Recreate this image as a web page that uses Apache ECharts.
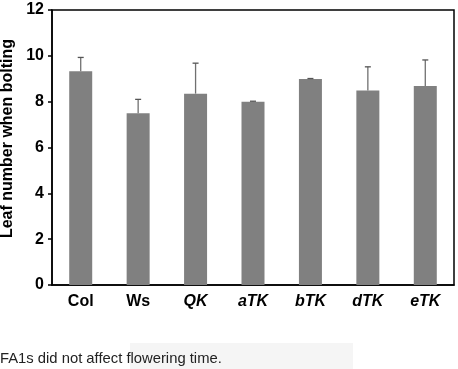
<!DOCTYPE html>
<html><head><meta charset="utf-8">
<script src="https://cdn.jsdelivr.net/npm/echarts@6/dist/echarts.min.js"></script>
<style>html,body{margin:0;padding:0;background:#fff}#c{width:458px;height:369px}</style>
</head><body><div id="c"></div>
<script>
const categories = ['Col','Ws','QK','aTK','bTK','dTK','eTK'];
const italicCats = ['QK','aTK','bTK','dTK','eTK'];
const means = [9.33, 7.49, 8.35, 8.0, 8.99, 8.49, 8.68];
const upperErr = [9.93, 8.10, 9.68, 8.02, 9.01, 9.52, 9.82];
const yTicks = [0,2,4,6,8,10,12];

const chart = echarts.init(document.getElementById('c'));
const FONT = '"Liberation Sans", Arial, sans-serif';
chart.setOption({
  animation:false,
  grid:{left:52,right:4,top:10,bottom:84,outerBoundsMode:'none',containLabel:false,show:true,borderColor:'#000',borderWidth:1.5,backgroundColor:'transparent'},
  xAxis:{type:'category',data:categories,
    axisLine:{lineStyle:{color:'#000',width:1.5}},axisTick:{show:false},
    axisLabel:{interval:0,margin:9,fontFamily:FONT,fontWeight:'bold',fontSize:16,color:'#000',
      formatter:v=> italicCats.includes(v)?'{i|'+v+'}':v,
      rich:{i:{fontStyle:'italic',fontWeight:'bold',fontSize:16,fontFamily:FONT,color:'#000'}}}},
  yAxis:{type:'value',min:yTicks[0],max:yTicks[yTicks.length-1],interval:2,
    name:'Leaf number when bolting',nameLocation:'middle',nameGap:29,
    nameTextStyle:{fontFamily:FONT,fontWeight:'bold',fontSize:16,color:'#000',padding:[0,0,0,18]},
    axisLine:{show:true,lineStyle:{color:'#000',width:1.5}},
    axisTick:{show:true,length:4,lineStyle:{color:'#000',width:1.5}},
    splitLine:{show:false},
    axisLabel:{margin:8,fontFamily:FONT,fontWeight:'bold',fontSize:16,color:'#000'}},
  series:[
    {type:'bar',data:means,barWidth:23,itemStyle:{color:'#808080'},z:2},
    {type:'custom',z:3,
     data:categories.map((c,i)=>[i,means[i],upperErr[i]]),
     renderItem:(params,api)=>{
       const p0=api.coord([api.value(0),api.value(1)]);
       const p1=api.coord([api.value(0),api.value(2)]);
       const x=p0[0], hw=3;
       return {type:'group',children:[
         {type:'line',shape:{x1:x,y1:p0[1],x2:x,y2:p1[1]},style:{stroke:'#707070',lineWidth:1.3}},
         {type:'line',shape:{x1:x-hw,y1:p1[1],x2:x+hw,y2:p1[1]},style:{stroke:'#555',lineWidth:1.3}}
       ]};
     }}
  ],
  graphic:[
    {type:'rect',shape:{x:130,y:343,width:223,height:26},style:{fill:'#f5f5f5'},z:-1},
    {type:'text',left:0,top:351,style:{text:'FA1s did not affect flowering time.',font:'14.8px '+FONT,fill:'#222'}}
  ]
});
</script></body></html>
